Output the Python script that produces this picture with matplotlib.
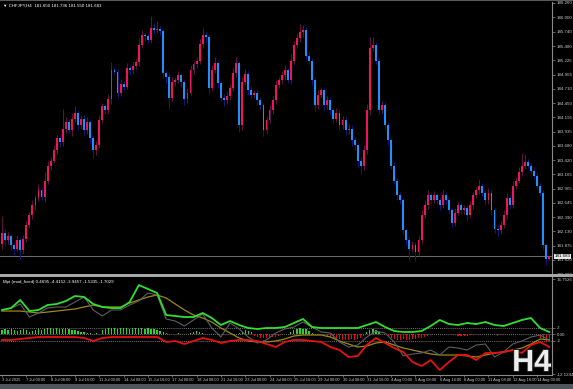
import matplotlib
matplotlib.use('Agg')
import matplotlib.pyplot as plt
import matplotlib.patheffects as pe
from matplotlib.patches import Rectangle
import numpy as np

# CHFJPY H4, one value per bar (3 Jul 16:00 .. 14 Aug 16:00)
first_open = 181.90
closes = [
    182.11, 181.97, 182.04, 181.88, 181.82, 181.97, 181.79, 182.00, 182.24, 182.42,
    182.60, 182.73, 182.87, 182.76, 183.05, 183.32, 183.41, 183.60, 183.81, 183.74,
    183.99, 184.10, 183.96, 184.17, 184.28, 184.05, 184.17, 183.96, 184.10, 183.81,
    183.60, 183.69, 184.14, 184.39, 184.32, 184.52, 185.04, 185.01, 184.64, 184.79,
    184.75, 185.08, 185.04, 185.12, 185.19, 185.50, 185.69, 185.66, 185.59, 185.80,
    185.77, 185.79, 185.75, 184.99, 184.92, 184.54, 184.83, 184.86, 184.95, 184.83,
    184.52, 184.64, 185.04, 185.15, 185.21, 185.51, 185.68, 185.64, 184.72, 185.04,
    185.17, 184.81, 184.55, 184.50, 184.57, 184.72, 184.99, 185.17, 184.05, 184.83,
    184.97, 184.68, 184.59, 184.64, 184.50, 184.41, 183.96, 184.14, 184.32, 184.50,
    184.77, 184.86, 184.95, 185.04, 184.86, 185.22, 185.50, 185.62, 185.73, 185.77,
    185.31, 185.22, 184.86, 184.41, 184.59, 184.68, 184.41, 184.50, 184.32, 184.17,
    184.28, 184.05, 184.14, 183.96, 183.99, 183.78, 183.69, 183.41, 183.32, 183.60,
    184.32, 185.44, 185.50, 185.22, 184.32, 184.41, 184.05, 183.78, 183.32, 183.05,
    182.78, 182.69, 182.15, 181.97, 181.82, 181.88, 181.75, 181.97, 182.42, 182.60,
    182.78, 182.69, 182.78, 182.69, 182.60, 182.78, 182.69, 182.51, 182.29, 182.47,
    182.60, 182.51, 182.55, 182.42, 182.60, 182.78, 182.87, 182.96, 182.83, 182.69,
    182.83, 182.51, 182.18, 182.15, 182.24, 182.42, 182.73, 182.60, 182.96, 183.05,
    183.20, 183.32, 183.38, 183.32, 183.23, 183.14, 182.96, 182.83, 181.88, 181.64,
    181.683]
# wick length above / below the body
up_wick = [
    0.30, 0.06, 0.08, 0.05, 0.04, 0.10, 0.05, 0.06, 0.08, 0.07,
    0.09, 0.06, 0.12, 0.05, 0.15, 0.08, 0.06, 0.10, 0.07, 0.05,
    0.35, 0.10, 0.06, 0.08, 0.12, 0.05, 0.07, 0.06, 0.09, 0.05,
    0.04, 0.08, 0.10, 0.07, 0.05, 0.09, 0.15, 0.06, 0.05, 0.10,
    0.06, 0.10, 0.05, 0.08, 0.06, 0.12, 0.09, 0.05, 0.06, 0.22,
    0.10, 0.15, 0.06, 0.04, 0.05, 0.07, 0.10, 0.06, 0.08, 0.05,
    0.04, 0.09, 0.10, 0.06, 0.08, 0.10, 0.12, 0.06, 0.05, 0.10,
    0.12, 0.05, 0.04, 0.06, 0.08, 0.07, 0.10, 0.12, 0.05, 0.09,
    0.10, 0.06, 0.08, 0.05, 0.07, 0.06, 0.04, 0.08, 0.10, 0.07,
    0.09, 0.06, 0.08, 0.10, 0.05, 0.12, 0.08, 0.10, 0.15, 0.10,
    0.06, 0.08, 0.05, 0.07, 0.09, 0.06, 0.05, 0.08, 0.06, 0.05,
    0.08, 0.06, 0.07, 0.05, 0.09, 0.06, 0.05, 0.04, 0.06, 0.10,
    0.12, 0.20, 0.15, 0.06, 0.05, 0.08, 0.06, 0.05, 0.04, 0.06,
    0.05, 0.06, 0.04, 0.05, 0.06, 0.08, 0.05, 0.07, 0.09, 0.10,
    0.10, 0.06, 0.08, 0.05, 0.07, 0.09, 0.06, 0.05, 0.04, 0.08,
    0.06, 0.07, 0.05, 0.06, 0.08, 0.07, 0.06, 0.12, 0.05, 0.04,
    0.08, 0.05, 0.04, 0.06, 0.07, 0.09, 0.10, 0.06, 0.08, 0.07,
    0.10, 0.22, 0.15, 0.06, 0.05, 0.06, 0.04, 0.05, 0.04, 0.03,
    0.02]
dn_wick = [
    0.08, 0.10, 0.06, 0.08, 0.12, 0.05, 0.15, 0.06, 0.07, 0.05,
    0.06, 0.08, 0.05, 0.07, 0.10, 0.06, 0.08, 0.05, 0.07, 0.09,
    0.06, 0.08, 0.05, 0.10, 0.06, 0.08, 0.07, 0.09, 0.06, 0.10,
    0.15, 0.08, 0.06, 0.05, 0.07, 0.06, 0.08, 0.05, 0.10, 0.06,
    0.07, 0.05, 0.08, 0.06, 0.05, 0.07, 0.06, 0.08, 0.05, 0.06,
    0.07, 0.05, 0.06, 0.08, 0.10, 0.20, 0.06, 0.07, 0.05, 0.08,
    0.10, 0.06, 0.05, 0.07, 0.06, 0.05, 0.06, 0.08, 0.10, 0.06,
    0.05, 0.08, 0.06, 0.10, 0.07, 0.06, 0.05, 0.06, 0.12, 0.08,
    0.06, 0.08, 0.07, 0.05, 0.08, 0.06, 0.10, 0.07, 0.05, 0.06,
    0.07, 0.05, 0.06, 0.08, 0.05, 0.07, 0.06, 0.05, 0.06, 0.08,
    0.07, 0.06, 0.08, 0.10, 0.06, 0.05, 0.08, 0.07, 0.06, 0.08,
    0.06, 0.09, 0.07, 0.08, 0.06, 0.10, 0.08, 0.12, 0.15, 0.08,
    0.07, 0.08, 0.05, 0.06, 0.08, 0.07, 0.06, 0.08, 0.07, 0.06,
    0.08, 0.06, 0.07, 0.08, 0.20, 0.06, 0.15, 0.07, 0.06, 0.05,
    0.06, 0.07, 0.05, 0.06, 0.08, 0.05, 0.06, 0.07, 0.08, 0.06,
    0.05, 0.07, 0.06, 0.08, 0.05, 0.06, 0.05, 0.07, 0.06, 0.08,
    0.06, 0.08, 0.07, 0.10, 0.06, 0.05, 0.06, 0.07, 0.05, 0.06,
    0.05, 0.06, 0.07, 0.05, 0.06, 0.05, 0.07, 0.06, 0.08, 0.12,
    0.03]

price_ticks = [186.260, 186.000, 185.740, 185.480, 185.225, 184.965, 184.710,
               184.450, 184.195, 183.935, 183.680, 183.420, 183.165, 182.905,
               182.645, 182.390, 182.130, 181.875, 181.620, 181.360]
date_labels = ['3 Jul 2025', '7 Jul 00:00', '8 Jul 08:00', '9 Jul 16:00',
               '11 Jul 00:00', '14 Jul 08:00', '15 Jul 16:00', '17 Jul 00:00',
               '18 Jul 08:00', '21 Jul 16:00', '23 Jul 00:00', '24 Jul 08:00',
               '25 Jul 16:00', '29 Jul 00:00', '30 Jul 08:00', '31 Jul 16:00',
               '4 Aug 00:00', '5 Aug 08:00', '6 Aug 16:00', '8 Aug 00:00',
               '11 Aug 08:00', '12 Aug 16:00', '14 Aug 00:00']
label_every = 8  # bars between date labels

# indicator lines, sampled every 3 bars
line_step = 3
green_line = [7.36, 7.96, 10.39, 7.05, 7.36, 8.87, 9.17, 10.08, 11.60, 11.30,
              9.17, 8.27, 7.96, 7.96, 9.78, 14.93, 13.72, 12.51, 5.84, 5.54,
              5.23, 5.23, 6.45, 4.93, 2.81, 4.02, 2.81, 1.90, 1.60, 1.90,
              1.90, 2.20, 3.42, 4.63, 2.20, 1.90, 1.90, 1.90, 1.90, 1.90,
              2.81, 3.72, 2.20, 0.99, 0.69, 0.69, 0.99, 2.51, 4.33, 3.11,
              2.81, 3.42, 3.11, 3.72, 2.81, 2.51, 3.42, 4.33, 4.93, 1.90, 0.69]
red_line = [-1.73, -1.73, -1.43, -1.13, -0.83, -0.83, -0.83, -0.83, -0.83, -1.13,
            -2.04, -1.13, -0.83, -0.83, -0.83, -0.83, -0.83, -0.83, -2.34, -2.04,
            -2.95, -2.04, -1.13, -1.73, -2.64, -2.04, -1.73, -1.73, -2.04, -2.95,
            -3.86, -2.34, -1.73, -1.73, -2.04, -2.34, -3.86, -4.77, -6.89, -6.58,
            -3.25, -1.13, -2.64, -4.16, -5.37, -8.40, -9.61, -7.80, -10.83, -8.40,
            -6.28, -6.28, -7.80, -5.67, -5.67, -5.37, -4.77, -5.67, -3.25, -2.34, -3.86]
gray_line = [7.36, 7.96, 9.17, 5.23, 6.45, 7.96, 8.27, 8.27, 9.78, 11.30,
             7.36, 5.54, 7.36, 7.36, 8.87, 10.08, 12.51, 11.90, 4.63, 4.02,
             2.51, 4.33, 6.14, 1.90, -0.83, 3.42, 1.60, -0.83, -2.64, -1.73,
             0.39, 1.60, 2.20, 3.72, 2.20, 0.69, 0.39, -2.34, -3.86, -3.25,
             -0.83, 0.99, 0.39, -2.34, -6.58, -5.98, -5.67, -4.77, -6.28, -3.86,
             -4.16, -4.77, -3.25, -2.95, -6.89, -5.37, -2.95, -2.04, -0.83, -0.22, -1.73]
olive_line = [7.05, 7.05, 7.05, 6.75, 6.45, 6.75, 7.05, 7.36, 7.66, 8.27,
              8.87, 8.27, 8.27, 8.27, 9.48, 10.39, 11.30, 11.90, 10.99, 9.17,
              7.36, 5.84, 4.93, 3.72, 1.90, 0.39, -1.13, -2.04, -2.34, -2.34,
              -2.04, -1.43, -0.52, -0.22, -0.22, -0.22, -0.83, -2.04, -2.95, -3.86,
              -3.55, -2.64, -2.34, -3.25, -4.16, -4.77, -5.37, -5.98, -6.28, -6.28,
              -6.28, -6.58, -6.89, -6.28, -5.67, -5.37, -4.77, -4.16, -2.95, -1.43, -1.73]
# histogram, one value per bar
hist = [1.2, 1.5, 1.4, 1.6, 1.3, 1.0, 1.4, 1.5, 1.2,
        0.8, 1.0, 1.3, 1.6, 1.4, 1.7, 1.9, 1.8, 1.6, 1.9, 1.7, 1.5, 1.8, 1.6,
        1.4, 1.2, 1.0, 0.8, 0.6, 0.4, 0.3, 0.2, 0.3, 0.2,
        1.2, 1.5, 1.8, 2.0, 1.9, 1.6, 1.8, 2.0, 1.9, 1.7, 2.0, 1.8, 1.9, 2.0,
        1.7, 1.9, 1.6, 1.5, 1.3, 1.0, 0.8,
        0.3, 0.2, 0.0, 0.0, 0.5, 0.0, 0.0, 0.0,
        0.4, 0.7, 0.9, 0.6, 0.3,
        0.0, 0.0, 0.0, 0.0, 0.0, 0.0, 0.0, 0.0, 0.0, 0.0, 0.0,
        0.5, 0.8, 1.2, 1.0, 0.6,
        -0.4, -0.8, -1.1, -1.2, -1.0, -1.2, -0.9, -0.7, -0.4,
        0.0, 0.0, 0.0,
        0.8, 1.2, 1.6, 1.8, 1.7, 1.5, 1.0, 0.5,
        0.0, 0.0, 0.0, 0.0,
        -0.5, -0.8, -1.0, -1.3, -1.5, -1.6, -1.8, -1.7, -1.5, -1.6, -1.4, -1.0, -0.6,
        0.6, 1.2, 1.5, 1.3, 0.7,
        0.0, 0.0,
        -0.8, -1.2, -1.5, -1.7, -1.6, -1.5, -1.7, -1.6, -1.4, -1.5, -1.2, -1.0, -0.7, -0.4,
        0.0, 0.0, 0.0, 0.0, 0.0, 0.0, 0.0, 0.0, 0.0,
        -0.5, -0.6, -0.4, -0.6, -0.3,
        0.0, 0.0, 0.0, 0.0, 0.0, 0.0, 0.0, 0.0,
        -0.4, -0.3,
        0.0, 0.0, 0.0, 0.0, 0.0, 0.0, 0.0, 0.0, 0.0, 0.0, 0.0, 0.0,
        -1.0, -1.8, -2.3, -2.0]
ind_ticks = [16.7526, 2, 0, -2, -12.1244]
ind_labels = ['16.7526', '2', '0.00', '-2', '-12.1244']

W, H = 573, 389
AXC = '#c8c8c8'
FONT = 'Liberation Sans'
BULL, BEAR = '#f0145a', '#1e90ff'
BULL_WICK, BEAR_WICK = '#5c1044', '#16167a'


def px_rect(x0, y0, x1, y1):
    return [x0 / W, 1 - y1 / H, (x1 - x0) / W, (y1 - y0) / H]


opens = np.array([first_open] + closes[:-1])
close_arr = np.array(closes)
body_top = np.maximum(opens, close_arr)
body_bot = np.minimum(opens, close_arr)
highs = body_top + np.array(up_wick)
lows = body_bot - np.array(dn_wick)
n = len(closes)
idx = np.arange(n)
up = close_arr >= opens

plt.rcParams['font.family'] = [FONT, 'DejaVu Sans']
fig = plt.figure(figsize=(W / 100, H / 100), dpi=100, facecolor='black')
ax = fig.add_axes(px_rect(0, 2, 552, 274))
ax2 = fig.add_axes(px_rect(0, 277, 552, 375), sharex=ax)

for a in (ax, ax2):
    a.set_facecolor('black')
    for s in a.spines.values():
        s.set_visible(False)
    a.spines['right'].set_visible(True)
    a.spines['right'].set_color('#8a8a8a')
    a.spines['right'].set_linewidth(0.8)
    a.yaxis.tick_right()
    a.tick_params(axis='y', colors='#8a8a8a', labelcolor=AXC, labelsize=3.2,
                  length=2, width=0.5, pad=1.2)

# candles
ax.vlines(idx[up], lows[up], highs[up], color=BULL_WICK, lw=0.75, zorder=2)
ax.vlines(idx[~up], lows[~up], highs[~up], color=BEAR_WICK, lw=0.75, zorder=2)
heights = np.maximum(body_top - body_bot, 0.015)
ax.bar(idx, heights, bottom=body_bot, width=0.62,
       color=np.where(up, BULL, BEAR), linewidth=0, zorder=3)
ax.axhline(closes[-1], color='#6e6e6e', lw=0.7, zorder=1)
ax.set_ylim(181.36, 186.278)
ax.set_yticks(price_ticks)
ax.set_yticklabels([f'{p:.3f}' for p in price_ticks])
ax.text(1.005, closes[-1], f'{closes[-1]:.3f}', transform=ax.get_yaxis_transform(),
        fontsize=3.2, color='black', va='center', ha='left',
        bbox=dict(facecolor='#e8e8e8', edgecolor='none', pad=0.4), zorder=5)
ax.tick_params(axis='x', bottom=False, labelbottom=False)

# indicator window
for lvl in (2, 0, -2):
    ax2.axhline(lvl, color='#9a9a9a', lw=0.5, ls=(0, (1.5, 1.5)), zorder=1)
hist_arr = np.array(hist)
ax2.bar(idx, hist_arr, width=0.4, linewidth=0,
        color=np.where(hist_arr > 0, '#2ad42a', '#e01010'), zorder=2)
lx = np.arange(0, n, line_step)
ax2.plot(lx, olive_line, color='#9c8a16', lw=0.9, zorder=3)
ax2.plot(lx, gray_line, color='#5e5e5e', lw=0.8, zorder=3)
ax2.plot(lx, red_line, color='#e81010', lw=1.3, zorder=4)
ax2.plot(lx, green_line, color='#30e030', lw=1.3, zorder=4)
ax2.set_ylim(-12.34, 17.36)
ax2.set_yticks(ind_ticks)
ax2.set_yticklabels(ind_labels)
ax2.spines['bottom'].set_visible(True)
ax2.spines['bottom'].set_color('#8a8a8a')
ax2.spines['bottom'].set_linewidth(0.8)
ax2.set_xticks(idx[::label_every])
ax2.set_xticklabels(date_labels, ha='left')
ax2.tick_params(axis='x', colors='#8a8a8a', labelcolor=AXC, labelsize=2.9,
                length=1.5, width=0.5, pad=0.6)
ax2.set_xlim(-0.66, 180.9)

# frame pieces
fig.add_artist(Rectangle((0, 1 - 1.2 / H), 1, 1.2 / H, transform=fig.transFigure,
                         color='#5a5a5a', lw=0))
fig.add_artist(Rectangle((0, 1 - 276.5 / H), 1, 2.5 / H, transform=fig.transFigure,
                         color='#a8a8a8', lw=0))
fig.add_artist(Rectangle((0, 0), 1, 5.5 / H, transform=fig.transFigure,
                         color='#50555c', lw=0))

fig.text(3 / W, 1 - 6 / H, '\u25bc CHFJPY,H4  181.650 181.736 181.550 181.683',
         fontsize=3.2, color='white', va='center')
fig.text(3 / W, 1 - 282 / H, 'Mpt (mod_fixed) 0.4695 -4.4152 -3.9457 -1.5335 -1.7029',
         fontsize=3.2, color='white', va='center')
fig.text(551 / W, 1 - 371 / H, 'H4', ha='right', va='baseline', fontsize=22,
         fontweight='bold', family=FONT, color='#eeeeee',
         path_effects=[pe.withStroke(linewidth=1.5, foreground='#222222')])

fig.savefig('out.png', dpi=100, facecolor='black')
